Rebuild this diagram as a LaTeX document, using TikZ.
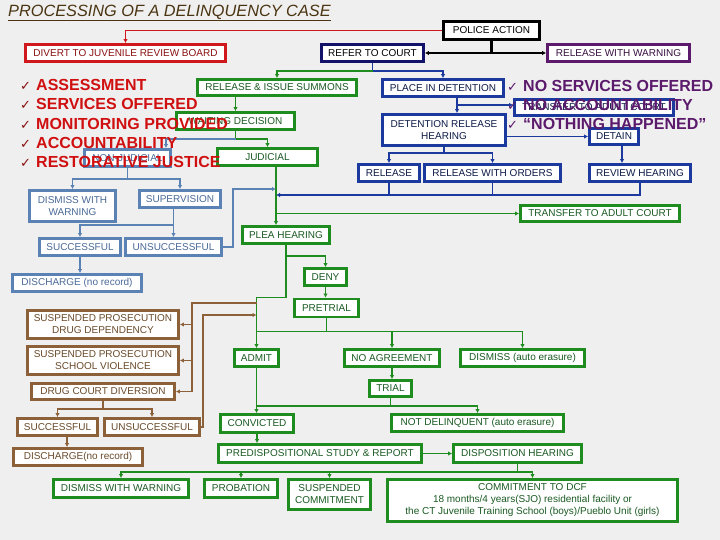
\documentclass[tikz,border=0pt]{standalone}
\usepackage{fontspec}
\setmainfont{Liberation Sans}
\newfontfamily\checkfont{DejaVu Sans}
\usetikzlibrary{arrows.meta}

\definecolor{bgcol}{HTML}{EFEFEF}
\definecolor{redbox}{HTML}{D0181C}
\definecolor{redtxt}{HTML}{D01010}
\definecolor{chkred}{HTML}{8A1010}
\definecolor{navy}{HTML}{12126A}
\definecolor{royal}{HTML}{1C3A9E}
\definecolor{purp}{HTML}{5C1A6C}
\definecolor{grn}{HTML}{1E8C1E}
\definecolor{grntxt}{HTML}{1A5A22}
\definecolor{steel}{HTML}{5B82B4}
\definecolor{steeltxt}{HTML}{4A6A98}
\definecolor{brn}{HTML}{8C6038}
\definecolor{brntxt}{HTML}{6A4A2A}
\definecolor{titlecol}{HTML}{4A3412}

\newcommand\chkmark[1]{\makebox[16pt][l]{\checkfont\fontsize{13}{13}\selectfont\color{#1}✓}}

\tikzset{
  box/.style={draw, fill=white, line width=2.9pt, inner sep=1pt, align=center,
    font=\fontsize{10}{12}\selectfont},
  wh/.style 2 args={minimum width=#1pt, minimum height=#2pt},
  rbox/.style={box, draw=redbox, text=chkred},
  nbox/.style={box, draw=royal, text=royal!45!black},
  gbox/.style={box, draw=grn, text=grntxt},
  sbox/.style={box, draw=steel, text=steeltxt},
  brbox/.style={box, draw=brn, text=brntxt},
  link/.style={line width=1.8pt},
  bigtext/.style={anchor=west, inner sep=0pt, font=\fontsize{16}{16}\selectfont\bfseries},
  >={Latex[length=4pt,width=4.5pt]}
}

\begin{document}
\begin{tikzpicture}[x=1pt,y=-1pt]
\useasboundingbox (0,0) rectangle (720,540);
\fill[bgcol] (0,0) rectangle (720,540);

\node[anchor=west, inner sep=0pt, text=titlecol, font=\fontsize{16.3}{17}\selectfont\itshape]
  (title) at (8,13) {\underline{PROCESSING OF A DELINQUENCY CASE}};

% top row
\node[box, draw=black, wh={96}{18}] (police) at (491.5,30.5) {POLICE ACTION};
\node[rbox, wh={200}{17}] (divert) at (125.5,53) {DIVERT TO JUVENILE REVIEW BOARD};
\node[box, draw=navy, wh={102}{17}] (refer) at (372.5,53) {REFER TO COURT};
\node[box, draw=purp, text=purp!60!black, wh={142}{17}] (rww) at (618.5,53) {RELEASE WITH WARNING};

% summons and judicial side
\node[gbox, wh={159}{16}] (summons) at (277,87.5) {RELEASE \& ISSUE SUMMONS};
\node[gbox, wh={118}{17}] (waiting) at (235.5,121) {WAITING DECISION};
\node[gbox, wh={100}{17}] (judicial) at (267.5,157) {JUDICIAL};
\node[gbox, wh={87}{17}] (plea) at (286,235) {PLEA HEARING};
\node[gbox, wh={159}{16}] (tac) at (600,213.5) {TRANSFER TO ADULT COURT};
\node[gbox, wh={42}{17}] (deny) at (325.5,277) {DENY};
\node[gbox, wh={64}{18}] (pretrial) at (326.5,308) {PRETRIAL};
\node[gbox, wh={44}{17}] (admit) at (256.5,358) {ADMIT};
\node[gbox, wh={95}{17}] (noagr) at (392,358) {NO AGREEMENT};
\node[gbox, wh={124}{17}] (dismissB) at (522.5,358) {DISMISS (auto erasure)};
\node[gbox, wh={42}{16}] (trial) at (390.5,388.5) {TRIAL};
\node[gbox, wh={73}{18}] (convicted) at (257,423.5) {CONVICTED};
\node[gbox, wh={172}{17}] (notdel) at (477.5,423) {NOT DELINQUENT (auto erasure)};
\node[gbox, wh={203}{18}] (predisp) at (320,453.5) {PREDISPOSITIONAL STUDY \& REPORT};
\node[gbox, wh={128}{18}] (disphear) at (517.5,453.5) {DISPOSITION HEARING};
\node[gbox, wh={135}{18}] (dismissC) at (121,488.5) {DISMISS WITH WARNING};
\node[gbox, wh={73}{18}] (probation) at (241,488.5) {PROBATION};
\node[gbox, wh={82}{30}] (suspcomm) at (329.5,494.5) {SUSPENDED\\COMMITMENT};
\node[gbox, wh={290}{42}] (dcf) at (532.5,500.5) {COMMITMENT TO DCF\\18 months/4 years(SJO) residential facility or\\the CT Juvenile Training School (boys)/Pueblo Unit (girls)};

% non-judicial side
\node[sbox, wh={86}{17}] (nonjud) at (127.5,158) {NON-JUDICIAL};
\node[sbox, wh={86}{31}] (dismissA) at (72.5,206) {DISMISS WITH\\WARNING};
\node[sbox, wh={81}{17}] (superv) at (180,199) {SUPERVISION};
\node[sbox, wh={81}{17}] (succA) at (80,247) {SUCCESSFUL};
\node[sbox, wh={96}{17}] (unsuccA) at (173.5,247) {UNSUCCESSFUL};
\node[sbox, wh={129}{17}] (dischA) at (77,283) {DISCHARGE (no record)};

% suspended prosecution
\node[brbox, wh={151}{28}] (sdrug) at (103,324.5) {SUSPENDED PROSECUTION\\DRUG DEPENDENCY};
\node[brbox, wh={151}{28}] (sschool) at (103,360.5) {SUSPENDED PROSECUTION\\SCHOOL VIOLENCE};
\node[brbox, wh={143}{16}] (dcd) at (103,391.5) {DRUG COURT DIVERSION};
\node[brbox, wh={80}{17}] (succB) at (57.5,427) {SUCCESSFUL};
\node[brbox, wh={95}{17}] (unsuccB) at (152,427) {UNSUCCESSFUL};
\node[brbox, wh={129}{17}] (dischB) at (78,457) {DISCHARGE(no record)};

% detention
\node[nbox, wh={121}{17}] (pid) at (443,88) {PLACE IN DETENTION};
\node[nbox, wh={159}{16}] (thid) at (594,107.5) {TRANSFER TO ADULT COURT};
\node[nbox, wh={123}{31}] (drh) at (444,130) {DETENTION RELEASE\\HEARING};
\node[nbox, wh={49}{16}] (detain) at (614,136.5) {DETAIN};
\node[nbox, wh={101}{17}] (review) at (640,173) {REVIEW HEARING};
\node[nbox, wh={61}{17}] (release) at (389,173) {RELEASE};
\node[nbox, wh={136}{17}] (rwo) at (492.5,173) {RELEASE WITH ORDERS};

% police action
\draw[link, redbox, ->] (police.west) -| (divert.north);
\draw[link, line width=2.4pt] (police.south) -- (police.south |- refer.east);
\draw[link, line width=2.4pt, <->] (refer.east) -- (rww.west);
\draw[link, royal] (refer.south) -- ++(0,8) coordinate (rj);
\draw[link, grn, ->] (rj) -| (summons.north);
\draw[link, royal, ->] (rj) -| (pid.north);

% summons
\draw[link, grn, ->] (summons.south -| waiting.north) -- (waiting.north);
\draw[link, grn] (waiting.south) -- ++(0,8) coordinate (wj);
\draw[link, grn, ->] (wj) -| (judicial.north);
\draw[link, steel, ->] (wj) -| ([xshift=-6pt]nonjud.north east);

\coordinate (jv) at (276,0);
\coordinate (sv) at (276,189);
\coordinate (nv) at (276,195);
\draw[link, grn, ->] (judicial.south -| jv) -- (plea.north -| jv);
\draw[link, grn, ->] (jv |- tac.west) -- (tac.west);
\draw[link, royal, ->] (review.south) |- (nv);
\draw[link, royal] (release.south) -- (release.south |- nv);
\draw[link, royal] (rwo.south) -- (rwo.south |- nv);
\draw[link, steel, ->] (unsuccA.east) -- ++(10,0) |- (sv);

% non-judicial
\draw[link, steel] (nonjud.south) -- ++(0,11) coordinate (nj);
\draw[link, steel, ->] (nj) -| (dismissA.north);
\draw[link, steel, ->] (nj) -| (superv.north);
\draw[link, steel] (superv.south -| unsuccA.north) -- ++(0,16) coordinate (sj);
\draw[link, steel, ->] (sj) -| (succA.north);
\draw[link, steel, ->] (sj) -- (unsuccA.north);
\draw[link, steel, ->] (succA.south) -- (succA.south |- dischA.north);

% plea hearing
\draw[link, grn] (plea.south) -- ++(0,11) coordinate (pj);
\draw[link, grn, ->] (pj) -| (deny.north);
\draw[link, grn, ->] (pj) -- (pj |- pretrial.north) -| (admit.north);
\draw[link, grn, ->] (deny.south) -- (deny.south |- pretrial.north);
\draw[link, grn] (pretrial.south) -- ++(0,13) coordinate (tj);
\draw[link, grn] (tj) -- (tj -| admit.north);
\draw[link, grn, ->] (tj) -| (noagr.north);
\draw[link, grn, ->] (tj) -| (dismissB.north);
\draw[link, grn, ->] (noagr.south) -- (noagr.south |- trial.north);
\draw[link, grn] (admit.south) -- ++(0,38) coordinate (aj);
\draw[link, grn, ->] (aj) -- (aj |- convicted.north);
\draw[link, grn, ->] (aj) -| (notdel.north);
\draw[link, grn] (trial.south) -- (trial.south |- aj);
\draw[link, grn, ->] (convicted.south) -- (convicted.south |- predisp.north);
\draw[link, grn, ->] (predisp.east) -- (disphear.west);
\draw[link, grn] (disphear.south) -- ++(0,8) coordinate (dj);
\draw[link, grn, ->] (dj) -| (dismissC.north);
\draw[link, grn, ->] (dj) -| (probation.north);
\draw[link, grn, ->] (dj) -| (suspcomm.north);
\draw[link, grn, ->] (dj) -| (dcf.north);

% suspended prosecution
\coordinate (bv) at (192,0);
\coordinate (bw) at (203,0);
\coordinate (ba) at (256.5,303);
\coordinate (bb) at (256.5,315);
\draw[link, brn, ->] (ba) -- (ba -| bv) |- (dcd.east);
\draw[link, brn, ->] (sdrug.east -| bv) -- (sdrug.east);
\draw[link, brn, ->] (sschool.east -| bv) -- (sschool.east);
\draw[link, brn, ->] (unsuccB.east) -| (bw |- bb) -- (bb);
\draw[link, brn] (dcd.south) -- ++(0,8) coordinate (cj);
\draw[link, brn, ->] (cj) -| (succB.north);
\draw[link, brn, ->] (cj) -| (unsuccB.north);
\draw[link, brn, ->] ([xshift=9.5pt]succB.south) -- ([xshift=9.5pt]succB.south |- dischB.north);

% detention
\coordinate (pv) at (457,105);
\coordinate (dv) at (622,0);
\draw[link, royal, ->] (pid.south -| pv) -- (pv |- drh.north);
\draw[link, royal, ->] (pv) -- (pv -| thid.west);
\draw[link, royal, ->] (drh.east |- detain.west) -- (detain.west);
\draw[link, royal, ->] (detain.south -| dv) -- (review.north -| dv);
\draw[link, royal] (drh.south) -- ++(0,6) coordinate (hj);
\draw[link, royal, ->] (hj) -| (release.north);
\draw[link, royal, ->] (hj) -| (rwo.north);

% lists
\node[bigtext, text=redtxt] (lsA) at (20,85) {\chkmark{chkred}ASSESSMENT};
\node[bigtext, text=redtxt] (lsB) at (20,104) {\chkmark{chkred}SERVICES OFFERED};
\node[bigtext, text=redtxt] (lsC) at (20,123.5) {\chkmark{chkred}MONITORING PROVIDED};
\node[bigtext, text=redtxt] (lsD) at (20,143) {\chkmark{chkred}ACCOUNTABILITY};
\node[bigtext, text=redtxt] (lsE) at (20,162) {\chkmark{chkred}RESTORATIVE JUSTICE};

\node[bigtext, text=purp] (lpA) at (507,86) {\chkmark{purp}NO SERVICES OFFERED};
\node[bigtext, text=purp] (lpB) at (507,105) {\chkmark{purp}NO ACCOUNTABILITY};
\node[bigtext, text=purp] (lpC) at (507,124) {\chkmark{purp}“NOTHING HAPPENED”};
\end{tikzpicture}
\end{document}
